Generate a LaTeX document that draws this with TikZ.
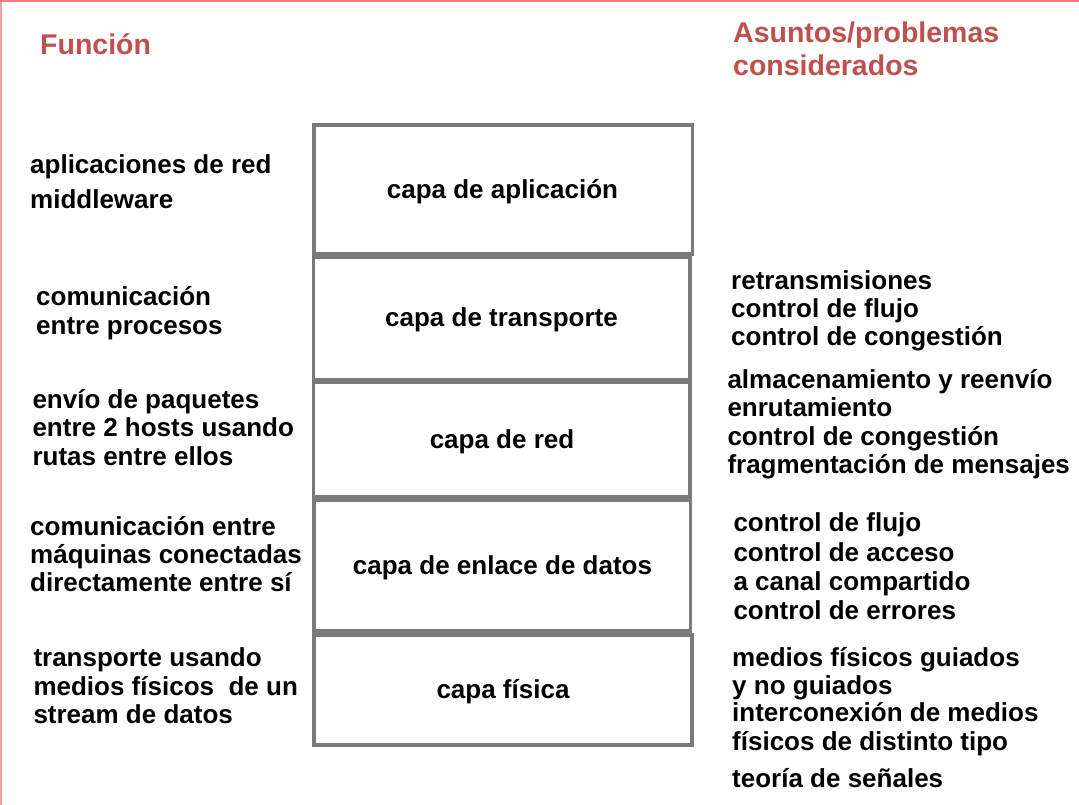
\documentclass[tikz,border=0pt]{standalone}
\usepackage{fontspec}
\setmainfont{Liberation Sans}
\definecolor{titlered}{HTML}{C0504D}
\definecolor{boxgray}{HTML}{7A7A7A}
\definecolor{edgered}{HTML}{F4A0A0}
\definecolor{edgetop}{HTML}{FF7A7A}
\begin{document}
\begin{tikzpicture}[x=1pt,y=-1pt,
  txt/.style={anchor=base west,inner sep=0pt,font=\fontsize{26}{28}\selectfont\bfseries,text=black},
  ttl/.style={anchor=base west,inner sep=0pt,font=\fontsize{28.5}{31}\selectfont\bfseries,text=titlered},
  lbl/.style={anchor=base,inner sep=0pt,font=\fontsize{26}{28}\selectfont\bfseries,text=black},
  layer/.style={draw=boxgray,line width=3.7pt}]
\useasboundingbox (0,0) rectangle (1079,805);
\fill[white] (0,0) rectangle (1079,805);
\draw[edgered,line width=2pt] (1,805) -- (1,1);
\draw[edgetop,line width=2pt] (0,1) -- (1079,1);

% titles
\node[ttl] (tf) at (40,54.3) {Función};
\node[ttl] (ta1) at (733,42.3) {Asuntos/problemas};
\node[ttl] (ta2) at (733,76) {considerados};

% layer boxes
\draw[layer] (314,125) rectangle (692.5,254);
\draw[layer] (313.5,257) rectangle (690,379.5);
\draw[layer] (313.5,382) rectangle (690,497);
\draw[layer] (314,500.5) rectangle (690.5,631);
\draw[layer] (314,635) rectangle (692,745);

\node[lbl] (l1) at (502.5,198.3) {capa de aplicación};
\node[lbl] (l2) at (501.5,326.7) {capa de transporte};
\node[lbl] (l3) at (502,448) {capa de red};
\node[lbl] (l4) at (502.5,574.3) {capa de enlace de datos};
\node[lbl] (l5) at (503,698.3) {capa física};

% left column: function
\node[txt] (f1a) at (30,173.3) {aplicaciones de red};
\node[txt] (f1b) at (30,209) {middleware};
\node[txt] (f2a) at (36,305.7) {comunicación};
\node[txt] (f2b) at (36,334) {entre procesos};
\node[txt] (f3a) at (32.3,408.3) {envío de paquetes};
\node[txt] (f3b) at (32.3,436.7) {entre 2 hosts usando};
\node[txt] (f3c) at (32.3,465) {rutas entre ellos};
\node[txt] (f4a) at (30,535) {comunicación entre};
\node[txt] (f4b) at (30,563.3) {máquinas conectadas};
\node[txt] (f4c) at (30,591.7) {directamente entre sí};
\node[txt] (f5a) at (33.3,666.7) {transporte usando};
\node[txt] (f5b) at (33.3,695) {medios físicos\ \ de un};
\node[txt] (f5c) at (33.3,723.3) {stream de datos};

% right column: issues
\node[txt] (r2a) at (731,289) {retransmisiones};
\node[txt] (r2b) at (731,317.3) {control de flujo};
\node[txt] (r2c) at (731,345.7) {control de congestión};
\node[txt] (r3a) at (727.3,388.3) {almacenamiento y reenvío};
\node[txt] (r3b) at (727.3,416.7) {enrutamiento};
\node[txt] (r3c) at (727.3,445) {control de congestión};
\node[txt] (r3d) at (727.3,473.3) {fragmentación de mensajes};
\node[txt] (r4a) at (733.3,531) {control de flujo};
\node[txt] (r4b) at (733.3,561) {control de acceso};
\node[txt] (r4c) at (733.3,590) {a canal compartido};
\node[txt] (r4d) at (733.3,619) {control de errores};
\node[txt] (r5a) at (732,666.5) {medios físicos guiados};
\node[txt] (r5b) at (732,694.5) {y no guiados};
\node[txt] (r5c) at (732,721.5) {interconexión de medios};
\node[txt] (r5d) at (732,750.5) {físicos de distinto tipo};
\node[txt] (r5e) at (732,787) {teoría de señales};
\end{tikzpicture}
\end{document}
